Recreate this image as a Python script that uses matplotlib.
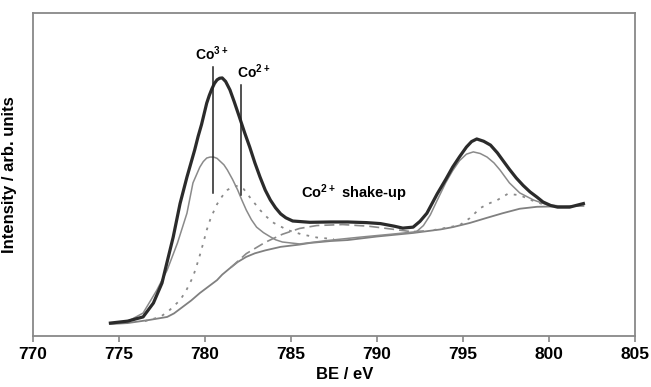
#XPS Co 2p spectrum with fitted components
import numpy as np
import matplotlib
matplotlib.use('Agg')
import matplotlib.pyplot as plt

plt.rcParams['font.family'] = 'Liberation Sans'
plt.rcParams['font.weight'] = 'bold'
plt.rcParams['mathtext.fontset'] = 'custom'
plt.rcParams['mathtext.rm'] = 'Liberation Sans:bold'
plt.rcParams['mathtext.default'] = 'rm'

# measured spectrum (thick line)
total_be = [774.5, 775.5, 776.4, 777.0, 777.5, 777.8, 778.15, 778.55, 778.95, 779.4, 779.6,
            779.8, 780.1, 780.25, 780.4, 780.55, 780.7, 780.85, 781.0, 781.2, 781.45, 781.7,
            782.0, 782.3, 782.6, 782.9, 783.2, 783.5, 783.8, 784.1, 784.4, 784.7, 785.1,
            786.1, 787.3, 788.3, 789.4, 790.2, 791.0, 791.5, 792.1, 792.5, 792.9, 793.2,
            793.5, 794.0, 794.4, 794.8, 795.2, 795.5, 795.8, 796.2, 796.6, 797.0, 797.3,
            797.7, 798.1, 798.5, 798.9, 799.3, 799.65, 800.1, 800.5, 801.2, 802.0]
total_int = [4.0, 4.6, 5.9, 10.2, 16.4, 23.0, 30.6, 41.0, 49.2, 57.6, 61.8,
             65.5, 72.1, 74.5, 76.5, 78.2, 79.3, 79.8, 79.9, 78.8, 76.2, 72.5,
             67.8, 63.0, 58.5, 53.6, 49.2, 45.2, 42.1, 39.7, 37.8, 36.6, 35.6,
             35.2, 35.3, 35.3, 35.1, 34.8, 34.0, 33.4, 33.7, 35.5, 38.0, 41.0,
             44.0, 48.5, 52.3, 55.5, 58.5, 60.2, 61.0, 60.3, 59.1, 56.7, 54.5,
             51.6, 48.9, 46.6, 44.6, 43.0, 41.5, 40.4, 39.9, 39.9, 41.0]

# Co3+ component (thin grey)
co3_be = [774.5, 775.5, 776.4, 777.2, 777.8, 778.4, 778.95, 779.3, 779.7, 779.9, 780.1,
          780.3, 780.5, 780.7, 780.9, 781.1, 781.3, 781.6, 781.9, 782.15, 782.4, 782.7,
          783.0, 783.4, 783.8, 784.1, 784.5, 785.5, 787.0, 789.0, 791.0, 792.3, 792.7,
          793.1, 793.5, 794.0, 794.4, 794.8, 795.2, 795.6, 796.0, 796.4, 796.8, 797.15,
          797.7, 798.3, 799.1, 799.9, 800.8, 802.0]
co3_int = [3.8, 4.5, 7.1, 14.2, 20.4, 28.8, 38.0, 47.4, 52.3, 54.0, 55.1,
           55.4, 55.4, 55.0, 54.0, 53.0, 51.4, 48.5, 45.2, 42.0, 39.0, 36.0,
           33.7, 32.0, 30.7, 29.8, 29.1, 28.5, 29.5, 30.6, 31.6, 32.3, 34.2,
           37.5, 42.0, 47.5, 51.2, 54.3, 56.3, 57.0, 56.5, 55.4, 53.6, 51.4,
           47.4, 44.3, 42.1, 40.6, 40.2, 40.4]

# Co2+ component 2p3/2 and 2p1/2 (dotted)
co2a_be = [776.5, 777.4, 777.9, 778.55, 778.9, 779.3, 779.5, 779.7, 779.9, 780.1, 780.3,
           780.5, 780.7, 780.9, 781.1, 781.3, 781.6, 781.9, 782.25, 782.6, 782.9, 783.2,
           783.6, 784.0, 784.8, 785.6, 786.5, 787.5]
co2a_int = [4.6, 5.9, 7.8, 11.1, 14.0, 18.3, 21.5, 25.0, 28.8, 32.8, 36.0,
            38.5, 40.8, 42.5, 44.0, 45.2, 46.2, 46.5, 45.5, 43.0, 41.0, 39.0,
            36.8, 35.0, 32.8, 31.5, 30.5, 30.0]
co2b_be = [793.3, 794.1, 794.8, 795.4, 796.0, 796.5, 797.0, 797.6, 798.3, 799.0, 799.8, 800.5]
co2b_int = [32.8, 33.6, 34.3, 36.5, 39.6, 41.0, 42.1, 44.0, 43.6, 42.0, 40.5, 40.1]

# Co2+ shake-up (dashed)
shk_be = [781.5, 782.4, 783.5, 784.5, 785.5, 786.5, 788.0, 789.5, 791.0, 792.0, 793.0]
shk_int = [21.2, 25.5, 29.0, 31.5, 33.3, 34.2, 34.5, 34.0, 33.0, 32.3, 32.6]

# Shirley background
bg_be = [774.5, 775.5, 776.8, 777.8, 778.2, 778.7, 779.2, 779.7, 780.2, 780.7, 781.0,
         781.45, 781.9, 782.4, 782.9, 783.5, 784.4, 785.5, 786.1, 787.3, 788.3, 790.0,
         792.1, 793.7, 794.4, 795.4, 796.4, 797.3, 798.3, 799.3, 800.2, 802.0]
bg_int = [3.7, 4.0, 5.0, 5.9, 7.0, 9.0, 11.0, 13.3, 15.3, 17.3, 19.0,
          21.0, 22.9, 24.5, 25.6, 26.5, 27.6, 28.3, 28.8, 29.4, 29.7, 30.8,
          31.9, 33.0, 33.7, 35.0, 36.6, 38.0, 39.4, 40.0, 40.1, 40.3]

# peak markers (position, bottom, top)
mark_be = [780.47, 782.07]
mark_lo = [44.3, 43.7]
mark_hi = [83.3, 77.7]

xticks = [770, 775, 780, 785, 790, 795, 800, 805]

fig = plt.figure(figsize=(6.51, 3.87), dpi=100)
ax = fig.add_axes([0.0507, 0.1318, 0.9247, 0.8346])

grey = '#8a8a8a'
ax.plot(bg_be, bg_int, color='#808080', lw=1.3)
ax.plot(shk_be, shk_int, color=grey, lw=1.2, linestyle=(0, (6, 3)))
ax.plot(co2a_be, co2a_int, color=grey, lw=1.3, linestyle=(0, (1.5, 3.5)))
ax.plot(co2b_be, co2b_int, color=grey, lw=1.3, linestyle=(0, (1.5, 3.5)))
ax.plot(co3_be, co3_int, color=grey, lw=1.1)
ax.plot(total_be, total_int, color='#2b2b2b', lw=2.3)
for xb, lo, hi in zip(mark_be, mark_lo, mark_hi):
    ax.plot([xb, xb], [lo, hi], color='#222222', lw=1.1)

ax.text(779.42, 85.4, r'Co$^{3+}$', fontsize=10, ha='left', va='baseline')
ax.text(781.86, 79.9, r'Co$^{2+}$', fontsize=10, ha='left', va='baseline')
ax.text(785.58, 42.7, r'Co$^{2+}$ shake-up', fontsize=10.5, ha='left', va='baseline')

ax.set_xlim(770, 805)
ax.set_ylim(0, 100)
ax.set_xticks(xticks)
ax.set_yticks([])
ax.tick_params(axis='x', direction='out', length=4, width=1.2, color='#888888',
               labelsize=12.5, pad=4)
for s in ax.spines.values():
    s.set_color('#888888')
    s.set_linewidth(1.3)
ax.set_xlabel('BE / eV', fontsize=12, fontweight='bold')
ax.xaxis.set_label_coords(0.517, -0.095)
ax.set_ylabel('Intensity / arb. units', fontsize=12, fontweight='bold')
ax.yaxis.set_label_coords(-0.027, 0.5)

fig.savefig('out.png', dpi=100)
